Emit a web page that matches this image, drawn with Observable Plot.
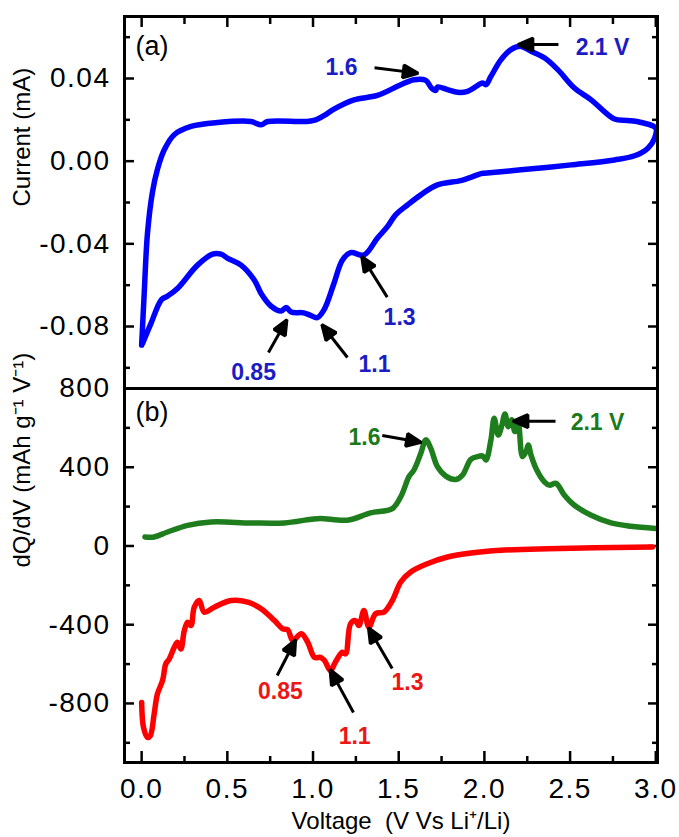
<!DOCTYPE html>
<html><head><meta charset="utf-8">
<script src="https://cdn.jsdelivr.net/npm/d3@7"></script>
<script src="https://cdn.jsdelivr.net/npm/@observablehq/plot@0.6"></script>
<style>
body{margin:0;background:#fff;}
#wrap{position:relative;width:679px;height:837px;overflow:hidden;font-family:"Liberation Sans",Arial,sans-serif;}
#wrap svg{position:absolute;left:0;}
#wrap g[aria-label$="tick label"]{letter-spacing:1.5px;}
</style></head><body><div id="wrap"></div>
<script>
// ---- Panel (a): cyclic voltammogram (loop, in scan order) ----
const cvV = [0.00, 0.015, 0.034, 0.063, 0.092, 0.132, 0.19, 0.288, 0.443, 0.638, 0.697, 0.736, 0.95, 1.005, 1.063, 1.122, 1.239, 1.375, 1.512, 1.589, 1.658, 1.691, 1.716, 1.726, 1.785, 1.843, 1.902, 1.99, 2.009, 2.038, 2.096, 2.155, 2.209, 2.272, 2.35, 2.428, 2.525, 2.623, 2.70, 2.759, 2.837, 2.915, 3.0,
  2.993, 2.954, 2.876, 2.759, 2.506, 2.213, 1.999, 1.98, 1.921, 1.862, 1.726, 1.629, 1.551, 1.482, 1.434, 1.375, 1.297, 1.219, 1.171, 1.122, 1.063, 1.025, 0.985, 0.946, 0.872, 0.843, 0.814, 0.756, 0.697, 0.658, 0.58, 0.502, 0.463, 0.414, 0.326, 0.209, 0.151, 0.116, 0.054, 0.005];
const cvI = [-0.089, -0.064, -0.035, -0.015, -0.004, 0.0055, 0.0128, 0.0168, 0.0187, 0.0192, 0.0176, 0.0192, 0.0192, 0.0197, 0.022, 0.0252, 0.0297, 0.0318, 0.037, 0.0394, 0.0391, 0.0354, 0.0342, 0.0359, 0.0346, 0.0333, 0.0338, 0.0378, 0.037, 0.041, 0.049, 0.054, 0.0556, 0.0532, 0.050, 0.0443, 0.0354, 0.0297, 0.024, 0.0204, 0.0197, 0.0187, 0.016,
  0.0111, 0.0063, 0.0026, 0.0006, -0.0018, -0.0042, -0.0058, -0.006, -0.0078, -0.0094, -0.0115, -0.0163, -0.0212, -0.026, -0.0317, -0.0373, -0.0454, -0.0443, -0.0479, -0.0592, -0.0721, -0.0757, -0.0746, -0.0734, -0.073, -0.0708, -0.0725, -0.0702, -0.064, -0.0576, -0.0503, -0.047, -0.045, -0.045, -0.0503, -0.0616, -0.0653, -0.067, -0.0786, -0.0883];

// ---- Panel (b): dQ/dV, charge (green) ----
const chgV = [0.019, 0.073, 0.151, 0.268, 0.405, 0.638, 0.833, 0.989, 1.044, 1.2, 1.336, 1.463, 1.512, 1.56, 1.589, 1.629, 1.658, 1.687, 1.726, 1.775, 1.833, 1.872, 1.921, 1.96, 1.99, 2.009, 2.038, 2.057, 2.081, 2.10, 2.12, 2.139, 2.159, 2.178, 2.197, 2.222, 2.243, 2.256, 2.272, 2.301, 2.35, 2.379, 2.418, 2.467, 2.525, 2.623, 2.739, 2.855, 3.0];
const chgQ = [46, 46, 71, 105, 122, 117, 117, 136, 140, 131, 168, 190, 250, 352, 386, 471, 539, 496, 403, 355, 338, 360, 440, 454, 457, 437, 539, 649, 564, 606, 671, 606, 641, 581, 624, 454, 479, 513, 462, 394, 326, 309, 318, 258, 207, 156, 117, 100, 89];

// ---- Panel (b): dQ/dV, discharge (red) ----
const disV = [0.0, 0.011, 0.034, 0.05, 0.073, 0.092, 0.122, 0.141, 0.161, 0.19, 0.209, 0.229, 0.249, 0.268, 0.288, 0.307, 0.336, 0.365, 0.424, 0.522, 0.619, 0.697, 0.775, 0.823, 0.853, 0.882, 0.931, 0.969, 1.009, 1.044, 1.067, 1.102, 1.13, 1.171, 1.19, 1.219, 1.248, 1.268, 1.297, 1.326, 1.365, 1.414, 1.463, 1.512, 1.57, 1.667, 1.785, 1.921, 2.096, 2.37, 2.98];
const disQ = [-795, -922, -973, -965, -854, -752, -684, -599, -574, -515, -489, -523, -430, -387, -404, -311, -277, -336, -311, -277, -285, -319, -379, -421, -426, -481, -446, -489, -566, -566, -582, -633, -591, -540, -548, -395, -379, -404, -328, -413, -344, -336, -277, -183, -132, -90, -56, -36, -22, -14, -5];

// ---- Annotations ----
const annA = ["1.6", "2.1 V", "0.85", "1.1", "1.3"];
const annAx = [1.166, 2.689, 0.653, 1.359, 1.505];
const annAy = [0.0453, 0.055, -0.1022, -0.0984, -0.0756];
const arrA_x1 = [1.359, 2.432, 0.740, 1.201, 1.433];
const arrA_y1 = [0.0452, 0.0564, -0.0926, -0.0950, -0.0658];
const arrA_x2 = [1.608, 2.201, 0.845, 1.055, 1.287];
const arrA_y2 = [0.0426, 0.0564, -0.0771, -0.0795, -0.0465];

const annBc = ["1.6", "2.1 V"];
const annBcx = [1.300, 2.660];
const annBcy = [551, 627];
const annBd = ["0.85", "1.1", "1.3"];
const annBdx = [0.810, 1.243, 1.551];
const annBdy = [-739, -968, -693];
const arrB_x1 = [1.404, 2.415, 0.791, 1.236, 1.462];
const arrB_y1 = [561, 634, -658, -846, -622];
const arrB_x2 = [1.627, 2.172, 0.896, 1.102, 1.326];
const arrB_y2 = [527, 634, -480, -632, -419];

// ---- Axes ticks ----
const xMajor = [0, 0.5, 1, 1.5, 2, 2.5, 3];
const xMinor = [0.25, 0.75, 1.25, 1.75, 2.25, 2.75];
const aMajor = [0.04, 0, -0.04, -0.08];
const aMinor = [0.06, 0.02, -0.02, -0.06, -0.10];
const bMajor = [800, 400, 0, -400, -800];
const bMinor = [600, 200, -200, -600, -1000];

const BLUE = "#0000ff", BLUE_T = "#1c1cc4";
const GREEN = "#1e7e1e", GREEN_T = "#1b7a1b";
const RED = "#ff0000", RED_T = "#ee1515";
const FONT = "'Liberation Sans', Arial, sans-serif";

function arrowHead(color, context) {
  const ns = "http://www.w3.org/2000/svg";
  const doc = (context && context.document) || document;
  const m = doc.createElementNS(ns, "marker");
  m.setAttribute("viewBox", "-15 -7 16 14");
  m.setAttribute("markerWidth", 16);
  m.setAttribute("markerHeight", 14);
  m.setAttribute("markerUnits", "userSpaceOnUse");
  m.setAttribute("orient", "auto");
  m.setAttribute("overflow", "visible");
  const p = doc.createElementNS(ns, "path");
  p.setAttribute("d", "M-14,-6.5L1,0L-14,6.5Z");
  p.setAttribute("fill", color);
  m.appendChild(p);
  return m;
}

const blank = () => "";
function yTicks(major, minor, fmt) {
  return [
    Plot.axisY(major, {anchor: "left", tickSize: -10, tickPadding: 24, tickFormat: fmt, fontSize: 28, strokeWidth: 2.5, label: null}),
    Plot.axisY(minor, {anchor: "left", tickSize: -6, tickFormat: blank, strokeWidth: 2.5, label: null}),
    Plot.axisY(major, {anchor: "right", tickSize: -10, tickFormat: blank, strokeWidth: 2.5, label: null}),
    Plot.axisY(minor, {anchor: "right", tickSize: -6, tickFormat: blank, strokeWidth: 2.5, label: null})
  ];
}

function build(marker) {
  const wrap = document.getElementById("wrap");
  wrap.innerHTML = "";
  const common = {width: 679, marginLeft: 124, marginRight: 22,
    style: {background: "transparent", overflow: "visible", fontFamily: FONT, color: "#000"}};
  const lineOpts = {strokeWidth: 5.5, strokeLinejoin: "round", strokeLinecap: "round", curve: "catmull-rom"};

  const pa = Plot.plot({
    ...common, height: 392, marginTop: 16, marginBottom: 4,
    x: {domain: [-0.1, 3.01]},
    y: {domain: [-0.11, 0.07]},
    marks: [
      ...yTicks(aMajor, aMinor, d => d.toFixed(2)),
      Plot.axisX(xMajor, {anchor: "top", tickSize: -10, tickFormat: blank, strokeWidth: 2.5, label: null}),
      Plot.axisX(xMinor, {anchor: "top", tickSize: -7, tickFormat: blank, strokeWidth: 2.5, label: null}),
      Plot.line(cvV, {x: cvV, y: cvI, stroke: BLUE, ...lineOpts}),
      Plot.link(arrA_x1, {x1: arrA_x1, y1: arrA_y1, x2: arrA_x2, y2: arrA_y2, stroke: "#000", strokeWidth: 3, markerEnd: marker}),
      Plot.text(annA, {x: annAx, y: annAy, text: annA, fill: BLUE_T, fontWeight: "bold", fontSize: 23}),
      Plot.text(["(a)"], {frameAnchor: "top-left", dx: 11, dy: 19, textAnchor: "start", lineAnchor: "top", fontSize: 27}),
      Plot.text(["Current (mA)"], {frameAnchor: "left", dx: -102, dy: 4, rotate: -90, fontSize: 24}),
      Plot.frame({stroke: "#000", strokeWidth: 3})
    ]
  });

  const pb = Plot.plot({
    ...common, height: 457, marginTop: 8, marginBottom: 75,
    x: {domain: [-0.1, 3.01]},
    y: {domain: [-1100, 800]},
    marks: [
      ...yTicks(bMajor, bMinor, d => String(d)),
      Plot.axisX(xMajor, {anchor: "bottom", tickSize: -11, tickPadding: 27, tickFormat: d => d.toFixed(1), fontSize: 28, strokeWidth: 2.5, label: null}),
      Plot.axisX(xMinor, {anchor: "bottom", tickSize: -6, tickFormat: blank, strokeWidth: 2.5, label: null}),
      Plot.line(chgV, {x: chgV, y: chgQ, stroke: GREEN, ...lineOpts}),
      Plot.line(disV, {x: disV, y: disQ, stroke: RED, ...lineOpts}),
      Plot.link(arrB_x1, {x1: arrB_x1, y1: arrB_y1, x2: arrB_x2, y2: arrB_y2, stroke: "#000", strokeWidth: 3, markerEnd: marker}),
      Plot.text(annBc, {x: annBcx, y: annBcy, text: annBc, fill: GREEN_T, fontWeight: "bold", fontSize: 23}),
      Plot.text(annBd, {x: annBdx, y: annBdy, text: annBd, fill: RED_T, fontWeight: "bold", fontSize: 23}),
      Plot.text(["(b)"], {frameAnchor: "top-left", dx: 11, dy: 13, textAnchor: "start", lineAnchor: "top", fontSize: 27}),
      Plot.text(["dQ/dV (mAh g\u207B\u00B9 V\u207B\u00B9)"], {frameAnchor: "left", dx: -102, dy: -8, rotate: -90, fontSize: 24}),
      Plot.text(["Voltage  (V Vs Li\u207A/Li)"], {frameAnchor: "bottom", dx: 10, dy: 66, fontSize: 24}),
      Plot.frame({stroke: "#000", strokeWidth: 3})
    ]
  });
  pa.style.top = "0px";
  pb.style.top = "380px";
  wrap.appendChild(pb);
  wrap.appendChild(pa);
}

try { build(arrowHead); } catch (e) { console.error(e); build("arrow"); }
</script>
</body></html>
